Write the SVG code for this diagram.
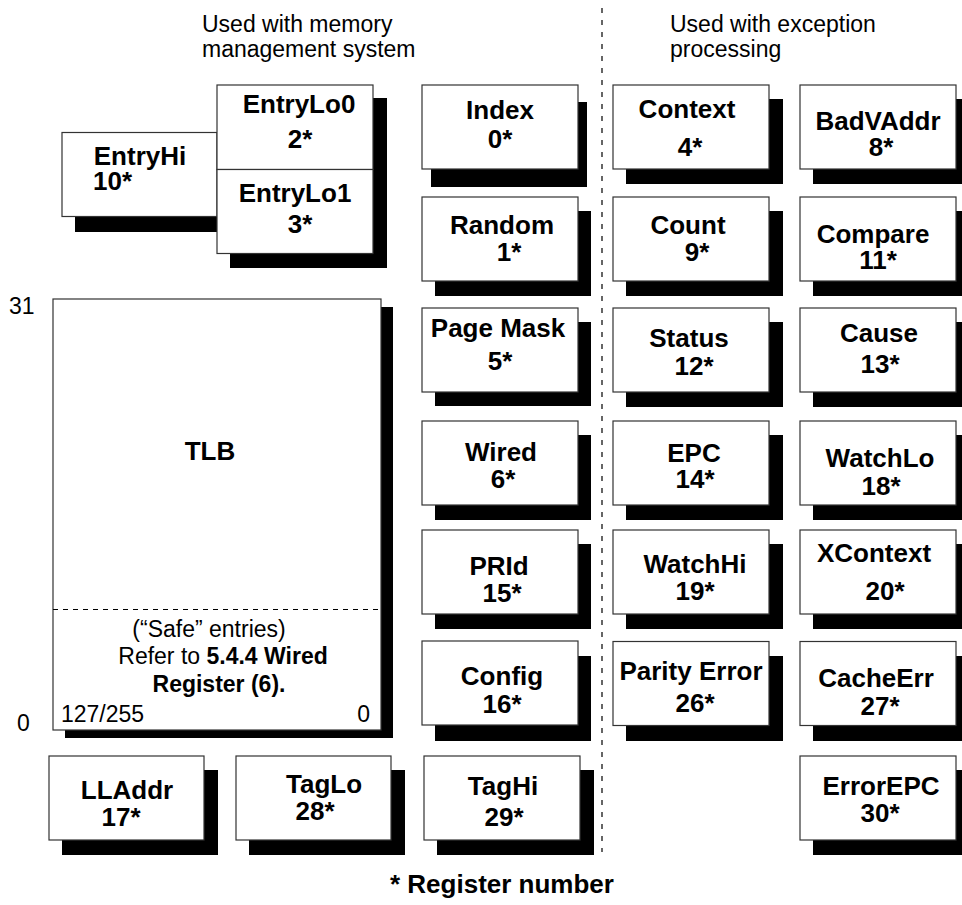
<svg xmlns="http://www.w3.org/2000/svg" width="962" height="905" viewBox="0 0 962 905">
<style>
.sh{fill:#000}
.bx{fill:#fff;stroke:#333;stroke-width:1.2}
.lb{font-family:"Liberation Sans",Arial,Helvetica,sans-serif;font-weight:bold;font-size:26px;text-anchor:middle;fill:#000}
.tx{font-family:"Liberation Sans",Arial,Helvetica,sans-serif;font-size:23px;fill:#000}
.hd{font-family:"Liberation Sans",Arial,Helvetica,sans-serif;font-size:23px;fill:#000}
.dv{stroke:#000;stroke-width:1.2;fill:none}
</style>
<rect width="962" height="905" fill="#fff"/>

<g id="headers">
<text class="hd" x="202" y="32">Used with memory</text>
<text class="hd" x="202" y="57">management system</text>
<text class="hd" x="670" y="32">Used with exception</text>
<text class="hd" x="670" y="57">processing</text>
</g>

<g id="dividers">
<line class="dv" x1="602" y1="8" x2="602" y2="852" stroke-dasharray="5,7"/>
</g>

<g id="EntryHi">
<rect class="sh" x="75" y="148" width="155" height="84"/>
<rect class="bx" x="62" y="132.5" width="155" height="84"/>
<text class="lb" x="140" y="165">EntryHi</text>
<text class="lb" x="93" y="190" style="text-anchor:start">10*</text>
</g>

<g id="EntryLo">
<rect class="sh" x="230" y="98" width="157" height="170"/>
<rect class="bx" x="217" y="85" width="156" height="84.5"/>
<rect class="bx" x="217" y="169.5" width="156" height="84"/>
<text class="lb" x="299" y="113">EntryLo0</text>
<text class="lb" x="300" y="148">2*</text>
<text class="lb" x="295" y="202">EntryLo1</text>
<text class="lb" x="300" y="233">3*</text>
</g>

<g id="TLB">
<rect class="sh" x="65" y="307" width="328" height="431"/>
<rect class="bx" x="53" y="299" width="328" height="431"/>
<line x1="53" y1="609.5" x2="381" y2="609.5" stroke="#000" stroke-width="1" stroke-dasharray="5,5"/>
<text class="lb" x="210" y="460">TLB</text>
<text class="tx" x="209" y="637" text-anchor="middle">(“Safe” entries)</text>
<text class="tx" x="223" y="664" text-anchor="middle">Refer to <tspan font-weight="bold">5.4.4 Wired</tspan></text>
<text class="tx" x="219" y="692" text-anchor="middle" font-weight="bold">Register (6).</text>
<text class="tx" x="61" y="722">127/255</text>
<text class="tx" x="370" y="722" text-anchor="end">0</text>
</g>
<g id="tlb-scale">
<text class="tx" x="9" y="314">31</text>
<text class="tx" x="17" y="731">0</text>
</g>

<g id="Index">
<rect class="sh" x="431" y="102" width="156" height="85"/>
<rect class="bx" x="422" y="85" width="156" height="84"/>
<text class="lb" x="500" y="119">Index</text>
<text class="lb" x="500" y="148">0*</text>
</g>
<g id="Random">
<rect class="sh" x="435" y="211" width="156" height="85"/>
<rect class="bx" x="422" y="197" width="156" height="84"/>
<text class="lb" x="502" y="234">Random</text>
<text class="lb" x="509" y="261">1*</text>
</g>
<g id="PageMask">
<rect class="sh" x="435" y="322" width="156" height="84"/>
<rect class="bx" x="422" y="308" width="156" height="84"/>
<text class="lb" x="498" y="337">Page Mask</text>
<text class="lb" x="500" y="370">5*</text>
</g>
<g id="Wired">
<rect class="sh" x="435" y="435" width="156" height="85"/>
<rect class="bx" x="422" y="421" width="156" height="84"/>
<text class="lb" x="501" y="461">Wired</text>
<text class="lb" x="503" y="488">6*</text>
</g>
<g id="PRId">
<rect class="sh" x="435" y="544" width="156" height="85"/>
<rect class="bx" x="422" y="530" width="156" height="84"/>
<text class="lb" x="499" y="575">PRId</text>
<text class="lb" x="502" y="602">15*</text>
</g>
<g id="Config">
<rect class="sh" x="435" y="656" width="156" height="85"/>
<rect class="bx" x="422" y="641" width="156" height="84"/>
<text class="lb" x="502" y="685">Config</text>
<text class="lb" x="502" y="713">16*</text>
</g>
<g id="TagHi">
<rect class="sh" x="437" y="770" width="157" height="85"/>
<rect class="bx" x="424" y="756" width="156" height="84"/>
<text class="lb" x="503" y="795">TagHi</text>
<text class="lb" x="504" y="826">29*</text>
</g>

<g id="Context">
<rect class="sh" x="626" y="99" width="157" height="85"/>
<rect class="bx" x="613" y="85" width="156" height="84"/>
<text class="lb" x="687" y="118">Context</text>
<text class="lb" x="690" y="156">4*</text>
</g>
<g id="Count">
<rect class="sh" x="626" y="211" width="157" height="85"/>
<rect class="bx" x="613" y="197" width="156" height="84"/>
<text class="lb" x="688" y="234">Count</text>
<text class="lb" x="697" y="261">9*</text>
</g>
<g id="Status">
<rect class="sh" x="626" y="322" width="157" height="85"/>
<rect class="bx" x="613" y="308" width="156" height="84"/>
<text class="lb" x="689" y="347">Status</text>
<text class="lb" x="694" y="375">12*</text>
</g>
<g id="EPC">
<rect class="sh" x="626" y="435" width="157" height="85"/>
<rect class="bx" x="613" y="421" width="156" height="84"/>
<text class="lb" x="694" y="462">EPC</text>
<text class="lb" x="695" y="488">14*</text>
</g>
<g id="WatchHi">
<rect class="sh" x="626" y="544" width="157" height="85"/>
<rect class="bx" x="613" y="530" width="156" height="84"/>
<text class="lb" x="695" y="573">WatchHi</text>
<text class="lb" x="695" y="600">19*</text>
</g>
<g id="ParityError">
<rect class="sh" x="626" y="656" width="157" height="85"/>
<rect class="bx" x="613" y="641.5" width="156" height="84"/>
<text class="lb" x="691" y="680">Parity Error</text>
<text class="lb" x="695" y="712">26*</text>
</g>

<g id="BadVAddr">
<rect class="sh" x="813" y="99" width="157" height="85"/>
<rect class="bx" x="800" y="85" width="156" height="84"/>
<text class="lb" x="878" y="130">BadVAddr</text>
<text class="lb" x="881" y="156">8*</text>
</g>
<g id="Compare">
<rect class="sh" x="813" y="211" width="157" height="85"/>
<rect class="bx" x="800" y="197" width="156" height="84"/>
<text class="lb" x="873" y="243">Compare</text>
<text class="lb" x="878" y="269">11*</text>
</g>
<g id="Cause">
<rect class="sh" x="813" y="322" width="157" height="85"/>
<rect class="bx" x="800" y="308" width="156" height="84"/>
<text class="lb" x="879" y="342">Cause</text>
<text class="lb" x="880" y="373">13*</text>
</g>
<g id="WatchLo">
<rect class="sh" x="813" y="435" width="157" height="85"/>
<rect class="bx" x="800" y="421" width="156" height="84"/>
<text class="lb" x="880" y="467">WatchLo</text>
<text class="lb" x="881" y="495">18*</text>
</g>
<g id="XContext">
<rect class="sh" x="813" y="544" width="157" height="85"/>
<rect class="bx" x="800" y="530" width="156" height="84"/>
<text class="lb" x="874" y="562">XContext</text>
<text class="lb" x="885" y="600">20*</text>
</g>
<g id="CacheErr">
<rect class="sh" x="813" y="656" width="157" height="85"/>
<rect class="bx" x="800" y="641.5" width="156" height="84"/>
<text class="lb" x="876" y="687">CacheErr</text>
<text class="lb" x="880" y="715">27*</text>
</g>
<g id="ErrorEPC">
<rect class="sh" x="813" y="770" width="157" height="85"/>
<rect class="bx" x="800" y="756" width="156" height="84"/>
<text class="lb" x="881" y="795">ErrorEPC</text>
<text class="lb" x="880" y="822">30*</text>
</g>

<g id="LLAddr">
<rect class="sh" x="62" y="770" width="156" height="85"/>
<rect class="bx" x="49" y="756" width="155" height="84"/>
<text class="lb" x="127" y="799">LLAddr</text>
<text class="lb" x="121" y="826">17*</text>
</g>
<g id="TagLo">
<rect class="sh" x="249" y="770" width="156" height="85"/>
<rect class="bx" x="236" y="756" width="155" height="84"/>
<text class="lb" x="324" y="793">TagLo</text>
<text class="lb" x="315" y="820">28*</text>
</g>

<g id="legend">
<text class="lb" x="390" y="893" style="text-anchor:start">* Register number</text>
</g>
</svg>
